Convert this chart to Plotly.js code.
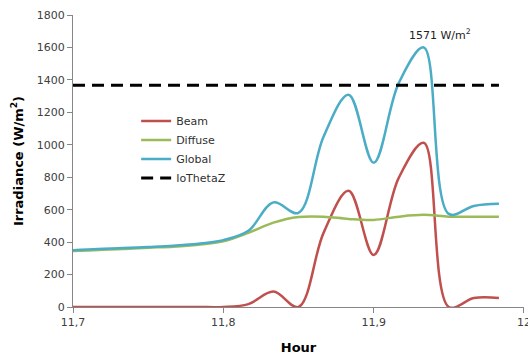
<!DOCTYPE html>
<html>
<head>
<meta charset="utf-8">
<script src="https://cdn.plot.ly/plotly-3.0.1.min.js"></script>
<style>html,body{margin:0;padding:0;background:#fff;}#chart{width:528px;height:358px;}</style>
</head>
<body>
<div id="chart"></div>
<script>
const hours = [11.7, 11.71667, 11.73333, 11.75, 11.76667, 11.78333, 11.8, 11.81667, 11.83333, 11.85, 11.86667, 11.88333, 11.9, 11.91667, 11.93333, 11.95, 11.96667, 11.98333];
const beam = [0, 0, 0, 0, 0, 0, 0, 18, 95, 0, 457, 716, 321, 796, 1012, 0, 55, 55];
const diffuse = [345, 352, 357, 365, 372, 384, 405, 457, 520, 555, 557, 543, 537, 557, 568, 557, 556, 556];
const global = [350, 358, 363, 370, 378, 390, 412, 470, 645, 580, 1050, 1309, 889, 1380, 1600, 574, 623, 636];
const ioThetaZ = [1367, 1367];
const ioHours = [11.7, 11.98333];
const xTickVals = [11.7, 11.8, 11.9, 12];
const xTickText = ["11,7", "11,8", "11,9", "12"];
const peakLabel = "1571 W/m<sup>2</sup>";

const font = "DejaVu Sans, sans-serif";
const traces = [
  {x: hours, y: beam, name: "Beam", mode: "lines", line: {color: "#C0504D", width: 2.5, shape: "spline", smoothing: 1}},
  {x: hours, y: diffuse, name: "Diffuse", mode: "lines", line: {color: "#9BBB59", width: 2.5, shape: "spline", smoothing: 1}},
  {x: hours, y: global, name: "Global", mode: "lines", line: {color: "#4BACC6", width: 2.5, shape: "spline", smoothing: 1}},
  {x: ioHours, y: ioThetaZ, name: "IoThetaZ", mode: "lines", line: {color: "#000000", width: 3, dash: "12px,7px"}}
];
const layout = {
  width: 528, height: 358,
  margin: {l: 73, r: 4, t: 15, b: 51},
  paper_bgcolor: "#fff", plot_bgcolor: "#fff",
  font: {family: font, size: 11, color: "#404040"},
  showlegend: true,
  legend: {x: 0.14, y: 0.687, xanchor: "left", yanchor: "top", bgcolor: "rgba(0,0,0,0)", font: {size: 11, color: "#303030"}, tracegroupgap: 0},
  xaxis: {
    range: [11.7, 12.00001], tickmode: "array", tickvals: xTickVals, ticktext: xTickText,
    ticklabeloverflow: "allow",
    showgrid: false, zeroline: false,
    showline: true, linecolor: "#868686", linewidth: 1, ticks: "outside", ticklen: 5, tickcolor: "#868686",
    tickfont: {size: 11, color: "#404040"},
    title: {text: "<b>Hour</b>", font: {size: 13, color: "#000"}, standoff: 14}
  },
  yaxis: {
    range: [0, 1800], dtick: 200, showgrid: false, zeroline: false,
    showline: true, linecolor: "#868686", linewidth: 1, ticks: "outside", ticklen: 5, tickcolor: "#868686",
    tickfont: {size: 11, color: "#404040"},
    title: {text: "<b>Irradiance (W/m<sup>2</sup>)</b>", font: {size: 13, color: "#000"}, standoff: 10}
  },
  annotations: [{x: 11.944, y: 1680, xref: "x", yref: "y", text: peakLabel, showarrow: false, font: {size: 11, color: "#222"}}]
};
Plotly.newPlot("chart", traces, layout, {displayModeBar: false, staticPlot: true});
</script>
</body>
</html>
